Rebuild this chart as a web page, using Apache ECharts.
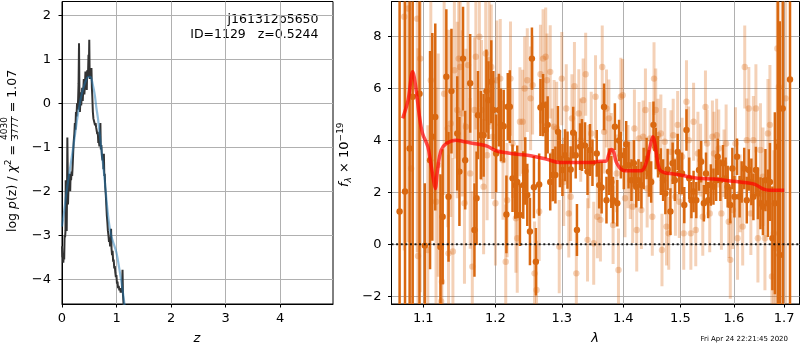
<!DOCTYPE html>
<html>
<head>
<meta charset="utf-8">
<script src="https://cdn.jsdelivr.net/npm/echarts@6/dist/echarts.min.js"></script>
<style>
    html, body { margin: 0; padding: 0; background: #fff; }
    #main { width: 800px; height: 350px; }
</style>
</head>
<body>
<div id="main"></div>
<script>
// left panel: log p(z)
var zTicks = [0, 1, 2, 3, 4];
var pzTicks = [-4, -3, -2, -1, 0, 1, 2];
var zGrid = [
    0.000, 0.008, 0.016, 0.024, 0.032, 0.040, 0.048, 0.056, 0.064, 0.068,
    0.074, 0.080, 0.086, 0.092, 0.098, 0.104, 0.110, 0.118, 0.126, 0.134,
    0.142, 0.150, 0.158, 0.166, 0.176, 0.186, 0.196, 0.206, 0.216, 0.226,
    0.236, 0.246, 0.256, 0.266, 0.276, 0.286, 0.296, 0.304, 0.312, 0.320,
    0.328, 0.336, 0.344, 0.352, 0.360, 0.370, 0.380, 0.390, 0.400, 0.410,
    0.420, 0.430, 0.438, 0.446, 0.454, 0.462, 0.470, 0.478, 0.486, 0.494,
    0.500, 0.508, 0.516, 0.524, 0.532, 0.540, 0.548, 0.556, 0.566, 0.576,
    0.586, 0.596, 0.606, 0.616, 0.626, 0.636, 0.646, 0.656, 0.666, 0.676,
    0.686, 0.696, 0.704, 0.712, 0.722, 0.732, 0.742, 0.752, 0.760, 0.768,
    0.776, 0.784, 0.792, 0.802, 0.812, 0.822, 0.832, 0.842, 0.852, 0.862,
    0.872, 0.882, 0.892, 0.900, 0.908, 0.918, 0.928, 0.938, 0.948, 0.958,
    0.968, 0.978, 0.988, 0.998, 1.008, 1.018, 1.028, 1.040, 1.052, 1.064,
    1.076, 1.088, 1.100, 1.110, 1.118, 1.126, 1.136
];
var logpz = [
    -3.25, -3.50, -3.40, -3.62, -3.45, -3.55, -3.00, -3.05, -2.90, -1.75,
    -2.70, -2.20, -2.90, -2.10, -0.78, -1.40, -2.30, -1.95, -1.60, -1.85,
    -1.70, -2.00, -1.60, -1.75, -1.55, -1.65, -1.40, -1.10, -0.85, -0.70,
    -0.45, -0.60, -0.20, -0.30, 0.00, -0.15, 0.10, 0.45, 1.36, 0.20,
    -0.20, 0.00, 0.25, -0.05, 0.10, 0.35, 0.05, 0.30, 0.55, 0.20,
    0.40, 0.72, 0.45, 0.65, 0.30, 0.75, 0.60, 0.70, 1.10, 0.90,
    1.44, 0.55, 0.65, 0.58, 0.75, 0.80, 0.35, 0.15, -0.20, -0.35,
    -0.40, -0.38, -0.50, -0.45, -0.55, -0.62, -0.70, -0.65, -0.90, -0.85,
    -0.98, -0.75, -0.45, -1.05, -0.95, -1.20, -1.30, -1.15, -1.50, -1.15,
    -1.65, -1.60, -1.90, -2.05, -2.30, -2.55, -2.70, -2.90, -3.00, -3.15,
    -3.05, -3.25, -3.10, -2.85, -3.30, -3.45, -3.35, -3.60, -3.55, -3.75,
    -3.70, -3.85, -3.95, -3.90, -4.10, -4.05, -4.20, -4.15, -4.25, -4.20,
    -4.30, -4.25, -4.30, -3.78, -4.35, -4.50, -4.75
];
var zSmooth = [0.00, 0.04, 0.08, 0.12, 0.16, 0.20, 0.24, 0.28, 0.32, 0.36, 0.40, 0.44, 0.48, 0.52,
    0.56, 0.60, 0.63, 0.66, 0.70, 0.74, 0.78, 0.82, 0.86, 0.90, 0.95, 1.00, 1.05, 1.10, 1.15];
var logpzSmooth = [-2.80, -2.45, -2.05, -1.70, -1.38, -1.05, -0.70, -0.35, -0.05, 0.20, 0.38, 0.52, 0.60, 0.60,
    0.45, 0.20, -0.10, -0.35, -0.80, -1.25, -1.70, -2.25, -2.70, -3.00, -3.20, -3.40, -3.75, -4.15, -4.60];

// right panel: spectrum
var waveTicks = [1.1, 1.2, 1.3, 1.4, 1.5, 1.6, 1.7];
var fluxTicks = [-2, 0, 2, 4, 6, 8];
var darkWave = [
    1.069, 1.076, 1.082, 1.086, 1.095, 1.102, 1.109, 1.112, 1.116, 1.123,
    1.126, 1.131, 1.134, 1.138, 1.146, 1.149, 1.154, 1.157, 1.164, 1.170,
    1.173, 1.175, 1.179, 1.183, 1.187, 1.190, 1.194, 1.197, 1.201, 1.205,
    1.208, 1.212, 1.216, 1.218, 1.221, 1.225, 1.229, 1.232, 1.236, 1.241,
    1.244, 1.247, 1.251, 1.254, 1.257, 1.260, 1.265, 1.267, 1.271, 1.275,
    1.278, 1.282, 1.286, 1.290, 1.294, 1.297, 1.301, 1.305, 1.309, 1.314,
    1.318, 1.322, 1.324, 1.329, 1.332, 1.337, 1.341, 1.345, 1.349, 1.356,
    1.360, 1.364, 1.368, 1.372, 1.376, 1.380, 1.383, 1.386, 1.390, 1.393,
    1.396, 1.401, 1.405, 1.409, 1.414, 1.418, 1.422, 1.426, 1.431, 1.435,
    1.440, 1.444, 1.448, 1.452, 1.456, 1.460, 1.465, 1.469, 1.473, 1.477,
    1.482, 1.486, 1.490, 1.495, 1.498, 1.503, 1.507, 1.511, 1.516, 1.520,
    1.524, 1.529, 1.534, 1.538, 1.543, 1.547, 1.551, 1.556, 1.561, 1.566,
    1.569, 1.574, 1.579, 1.584, 1.588, 1.593, 1.597, 1.601, 1.606, 1.611,
    1.615, 1.620, 1.625, 1.629, 1.634, 1.638, 1.643, 1.647, 1.652, 1.657,
    1.662, 1.667, 1.671, 1.676, 1.681, 1.687, 1.691, 1.697, 1.712
];
var darkFlux = [
    1.26, 2.03, 3.69, 5.68, 5.80, -0.05, 3.24, 4.14, 4.90, -0.10,
    1.06, 6.45, 1.83, 5.90, 4.27, 2.80, 7.15, 3.24, 6.20, 0.55,
    1.77, 4.97, 4.20, 4.20, 5.90, 5.55, 6.26, 5.17, 3.50, 5.17,
    4.60, 4.55, 1.15, 5.30, 5.30, 2.54, 2.28, 2.40, 1.13, 2.28,
    2.82, 1.90, 0.49, 7.15, 2.20, -0.67, 2.30, 5.27, 5.36, 4.40,
    4.60, 2.40, 2.67, 2.67, 4.33, 3.30, 2.86, 3.43, 3.24, 2.88,
    4.30, 3.43, 0.55, 3.76, 3.82, 3.80, 2.80, 3.63, 3.14, 3.50,
    2.28, 2.19, 5.29, 1.70, 2.80, 2.40, 1.70, 4.53, 1.58, 4.00,
    3.43, 2.92, 3.85, 3.05, 2.47, 3.12, 2.22, 2.47, 2.28, 2.92,
    3.30, 2.73, 2.40, 4.60, 3.69, 3.37, 2.80, 2.47, 1.96, 2.88,
    1.26, 3.12, 2.47, 3.56, 2.73, 2.73, 1.51, 4.40, 2.54, 1.70,
    2.03, 1.70, 2.86, 3.18, 1.58, 2.73, 1.70, 2.28, 2.22, 2.47,
    3.37, 2.47, 3.12, 2.54, 2.22, 1.51, 2.92, 1.83, 3.37, 1.83,
    2.40, 2.92, 1.70, 2.86, 2.40, 1.83, 2.86, 1.96, 1.58, 1.45,
    2.47, 1.58, 2.40, 0.23, 1.58, 3.76, -0.41, 5.23, 6.35
];
var darkErr = [
    12, 12, 12, 12, 10, 2.4, 4.2, 4.0, 3.6, 2.8,
    2.6, 2.6, 2.5, 2.4, 2.2, 2.1, 2.0, 1.9, 1.9, 1.8,
    1.8, 1.7, 1.7, 1.6, 1.6, 1.5, 1.6, 1.5, 1.5, 1.4,
    1.4, 1.4, 1.5, 1.3, 1.4, 1.3, 1.3, 1.4, 1.2, 1.3,
    1.3, 1.2, 1.3, 1.2, 1.2, 1.3, 1.2, 1.1, 1.2, 1.1,
    1.1, 1.1, 1.0, 1.1, 1.0, 1.1, 1.0, 1.0, 1.1, 0.9,
    1.0, 0.9, 1.0, 0.9, 1.0, 0.9, 0.9, 1.0, 0.9, 0.9,
    0.9, 1.0, 0.9, 0.9, 0.9, 1.0, 0.9, 0.9, 0.9, 0.8,
    0.9, 0.8, 0.9, 0.9, 0.8, 0.9, 0.8, 0.8, 0.9, 0.8,
    0.8, 0.9, 0.8, 0.9, 0.8, 0.8, 0.9, 0.8, 0.8, 0.8,
    0.9, 0.8, 0.8, 0.7, 0.8, 0.8, 0.7, 0.8, 0.8, 0.7,
    0.8, 0.7, 0.8, 0.8, 0.7, 0.8, 0.7, 0.8, 0.7, 0.8,
    0.7, 0.8, 0.7, 0.8, 0.8, 0.7, 0.8, 0.8, 0.7, 0.8,
    0.8, 0.8, 0.9, 0.8, 0.9, 0.9, 0.9, 1.0, 1.0, 1.1,
    1.2, 1.3, 1.5, 2.0, 3.5, 9, 9, 9, 12
];
var lightWave = [
    1.075, 1.080, 1.084, 1.092, 1.093, 1.096, 1.106, 1.110, 1.117, 1.120,
    1.124, 1.125, 1.128, 1.133, 1.134, 1.137, 1.140, 1.142, 1.146, 1.148,
    1.150, 1.153, 1.156, 1.158, 1.161, 1.164, 1.167, 1.170, 1.172, 1.177,
    1.180, 1.183, 1.186, 1.188, 1.191, 1.194, 1.196, 1.200, 1.202, 1.207,
    1.211, 1.215, 1.217, 1.222, 1.225, 1.230, 1.232, 1.236, 1.240, 1.243,
    1.247, 1.252, 1.255, 1.258, 1.261, 1.265, 1.267, 1.271, 1.275, 1.277,
    1.282, 1.285, 1.288, 1.292, 1.296, 1.300, 1.303, 1.307, 1.311, 1.314,
    1.316, 1.320, 1.323, 1.327, 1.330, 1.334, 1.338, 1.341, 1.343, 1.347,
    1.351, 1.354, 1.357, 1.362, 1.365, 1.368, 1.372, 1.376, 1.380, 1.383,
    1.389, 1.392, 1.396, 1.399, 1.403, 1.408, 1.412, 1.416, 1.419, 1.423,
    1.427, 1.431, 1.434, 1.438, 1.441, 1.446, 1.450, 1.453, 1.456, 1.460,
    1.465, 1.467, 1.472, 1.475, 1.479, 1.483, 1.487, 1.491, 1.495, 1.498,
    1.503, 1.506, 1.511, 1.515, 1.519, 1.524, 1.528, 1.532, 1.537, 1.541,
    1.546, 1.549, 1.554, 1.559, 1.562, 1.567, 1.571, 1.576, 1.581, 1.585,
    1.590, 1.593, 1.598, 1.603, 1.607, 1.612, 1.617, 1.621, 1.625, 1.629,
    1.633, 1.638, 1.643, 1.647, 1.652, 1.657, 1.661, 1.667, 1.671, 1.675,
    1.679, 1.683, 1.686, 1.689, 1.703
];
var lightFlux = [
    8.76, 9.08, 2.92, 8.69, -0.45, 7.15, -0.22, 6.32, 1.64, 3.05,
    -2.20, -1.44, 5.80, 4.46, -0.35, 4.65, -0.28, 6.70, 5.17, 7.15,
    6.83, 5.04, 1.58, 4.53, 6.90, 2.73, -0.86, 5.17, 7.22, 7.99,
    5.17, 2.22, 7.35, 3.43, 7.09, 6.83, 4.14, 1.58, 6.32, 6.38,
    3.24, -0.67, 1.70, 6.38, 3.88, 1.00, 0.23, 4.72, 4.72, 6.00,
    6.32, 5.62, 6.13, -1.12, -1.76, 1.26, 6.55, 7.15, 7.22, 6.32,
    6.64, 3.43, 4.53, 4.46, -0.09, 6.38, 2.40, 5.23, 1.19, 1.83,
    4.85, 6.09, -1.12, 5.04, 4.01, 5.55, 6.55, 0.17, 2.99, 4.27,
    0.04, 5.68, 1.06, 0.94, 6.83, 4.33, 5.23, 4.85, 3.56, 0.74,
    2.73, -0.99, 5.68, 5.74, 1.77, 2.99, 2.47, 1.45, 4.46, 0.55,
    4.08, 1.32, 4.14, 5.17, 2.15, 4.08, 1.06, 6.38, 5.17, 4.20,
    4.27, -0.22, 3.95, 0.68, 0.42, 3.56, 4.20, 1.83, 4.60, 1.64,
    3.37, 0.42, 5.49, 4.01, 0.42, 4.72, 0.55, 3.50, 3.24, 1.06,
    5.29, 3.88, 1.19, 4.14, 3.50, 4.20, 3.69, 1.19, 3.12, 3.88,
    0.87, -0.60, 1.32, 3.88, 0.23, 1.96, 0.68, 6.83, 4.01, 5.23,
    1.19, 4.01, 5.23, 0.23, 3.63, 2.60, 0.23, 4.27, 4.60, -1.24,
    0.42, -0.15, 7.54, 6.06, 5.62
];
var lightErr = [
    9, 9, 9, 9, 8, 9, 4.8, 4.8, 4.4, 4.3,
    4.2, 4.1, 3.9, 3.8, 3.8, 3.6, 3.6, 3.4, 3.4, 3.3,
    3.2, 3.2, 3.1, 3.0, 3.0, 2.9, 2.9, 2.8, 2.8, 2.7,
    2.7, 2.6, 2.6, 2.5, 2.5, 2.4, 2.4, 2.4, 2.3, 2.3,
    2.3, 2.2, 2.2, 2.2, 2.1, 2.1, 2.1, 2.1, 2.0, 2.0,
    2.0, 2.0, 1.9, 2.0, 1.9, 1.9, 1.9, 1.9, 1.9, 1.8,
    1.8, 1.8, 1.8, 1.8, 1.8, 1.8, 1.7, 1.7, 1.7, 1.7,
    1.7, 1.7, 1.7, 1.7, 1.6, 1.6, 1.6, 1.6, 1.6, 1.6,
    1.6, 1.6, 1.6, 1.6, 1.6, 1.6, 1.5, 1.5, 1.5, 1.5,
    1.5, 1.6, 1.5, 1.4, 1.5, 1.6, 1.5, 1.4, 1.5, 1.6,
    1.4, 1.5, 1.4, 1.6, 1.5, 1.4, 1.5, 1.4, 1.6, 1.4,
    1.5, 1.4, 1.3, 1.5, 1.4, 1.6, 1.4, 1.5, 1.3, 1.4,
    1.5, 1.4, 1.6, 1.3, 1.4, 1.5, 1.4, 1.6, 1.4, 1.5,
    1.4, 1.3, 1.5, 1.4, 1.6, 1.4, 1.5, 1.4, 1.3, 1.5,
    1.4, 1.5, 1.5, 1.4, 1.6, 1.5, 1.5, 1.6, 1.6, 1.6,
    1.6, 1.7, 1.7, 1.7, 1.8, 1.9, 2.0, 2.1, 2.3, 2.8,
    3.2, 4.2, 6, 9, 9
];
var modelWave = [
    1.073, 1.080, 1.086, 1.090, 1.095, 1.099, 1.106, 1.110, 1.114, 1.116,
    1.119, 1.124, 1.131, 1.144, 1.156, 1.174, 1.188, 1.202, 1.232, 1.252,
    1.277, 1.297, 1.324, 1.352, 1.357, 1.371, 1.376, 1.380, 1.384, 1.388,
    1.395, 1.403, 1.430, 1.438, 1.446, 1.451, 1.454, 1.462, 1.471, 1.488,
    1.507, 1.531, 1.562, 1.593, 1.625, 1.641, 1.657, 1.670, 1.700
];
var modelFlux = [
    4.85, 5.55, 6.64, 6.06, 4.90, 4.27, 3.76, 3.12, 2.41, 2.15,
    2.86, 3.63, 3.88, 4.01, 3.95, 3.86, 3.78, 3.59, 3.47, 3.41,
    3.27, 3.15, 3.15, 3.15, 3.19, 3.20, 3.47, 3.65, 3.56, 3.18,
    2.92, 2.83, 2.83, 3.05, 3.76, 4.14, 3.95, 2.92, 2.76, 2.71,
    2.64, 2.54, 2.51, 2.44, 2.37, 2.31, 2.13, 2.08, 2.08
];

var FONT = '"DejaVu Sans", sans-serif';
var ORANGE = 'rgb(217,104,16)';
var ORANGE_LIGHT = 'rgba(217,104,16,0.3)';
var WMIN = 1.0586, WMAX = 1.7317;

function minusFmt(v) {
    return String(v).replace('-', '\u2212');
}

function makeAxis(gridIndex, type, min, max, ticks, margin, fmt) {
    return {
        gridIndex: gridIndex,
        type: type,
        min: min,
        max: max,
        axisLine: {show: true, onZero: false, lineStyle: {color: '#000', width: 1}},
        axisTick: {show: true, inside: false, length: 3.5, customValues: ticks,
            lineStyle: {color: '#000', width: 1}},
        axisLabel: {color: '#000', fontSize: 13, fontFamily: FONT, margin: margin,
            customValues: ticks, formatter: fmt},
        splitLine: {show: true, lineStyle: {color: '#b0b0b0', width: 1}}
    };
}

function zip(a, b, c) {
    var out = [];
    for (var i = 0; i < a.length; i++) {
        out.push(c ? [a[i], b[i], c[i]] : [a[i], b[i]]);
    }
    return out;
}

// error bar + dot
function errorBars(color, lw, r) {
    return function (params, api) {
        var x = api.value(0), y = api.value(1), e = api.value(2);
        var lo = api.coord([x, y - e]), hi = api.coord([x, y + e]), c = api.coord([x, y]);
        return {
            type: 'group',
            children: [
                {type: 'line', shape: {x1: lo[0], y1: lo[1], x2: hi[0], y2: hi[1]},
                    style: {stroke: color, lineWidth: lw}},
                {type: 'circle', shape: {cx: c[0], cy: c[1], r: r}, style: {fill: color}}
            ]
        };
    };
}

// rotated mathtext-like label, reads bottom to top; (x, y) = baseline start
function rotatedLabel(x, y, pieces) {
    var ctx = document.createElement('canvas').getContext('2d');
    var children = [], cx = 0;
    pieces.forEach(function (p) {
        var font = (p.italic ? 'italic ' : '') + p.size + 'px ' + FONT;
        ctx.font = font;
        if (p.frac) {
            var w = Math.max(ctx.measureText(p.frac[0]).width, ctx.measureText(p.frac[1]).width) + 2;
            var bar = -5.5;
            children.push({type: 'line', shape: {x1: cx, y1: bar, x2: cx + w, y2: bar},
                style: {stroke: '#000', lineWidth: 0.8}});
            children.push({type: 'text', x: cx + w / 2, y: bar - 1.2 - 0.35 * p.size - 2.2,
                style: {text: p.frac[0], font: font, fill: '#000', align: 'center', textAlign: 'center',
                    verticalAlign: 'middle', textVerticalAlign: 'middle'}});
            children.push({type: 'text', x: cx + w / 2, y: bar + 1.2 + 0.73 * p.size - 0.35 * p.size,
                style: {text: p.frac[1], font: font, fill: '#000', align: 'center', textAlign: 'center',
                    verticalAlign: 'middle', textVerticalAlign: 'middle'}});
            cx += w;
            return;
        }
        children.push({type: 'text', x: cx, y: -0.35 * p.size + (p.dy || 0),
            style: {text: p.text, font: font, fill: '#000', align: 'left', textAlign: 'left',
                verticalAlign: 'middle', textVerticalAlign: 'middle'}});
        cx += ctx.measureText(p.text).width;
    });
    return {type: 'group', x: x, y: y, rotation: Math.PI / 2, children: children};
}

function plainText(x, y, text, size, align, italic) {
    var font = (italic ? 'italic ' : '') + size + 'px ' + FONT;
    return {type: 'text', x: x, y: y,
        style: {text: text, font: font, fill: '#000', align: align, textAlign: align,
            verticalAlign: 'middle', textVerticalAlign: 'middle'}};
}

var chart = echarts.init(document.getElementById('main'));

var option = {
    animation: false,
    backgroundColor: '#fff',
    textStyle: {fontFamily: FONT},
    grid: [
        {left: 62, top: 1.5, width: 271, height: 302.5, show: true, borderColor: '#000', borderWidth: 1},
        {left: 391.5, top: 1.5, width: 408, height: 302.5, show: true, borderColor: '#000', borderWidth: 1}
    ],
    xAxis: [
        makeAxis(0, 'value', 0, 4.97, zTicks, 8, minusFmt),
        makeAxis(1, 'log', WMIN, WMAX, waveTicks, 8, function (v) { return v.toFixed(1); })
    ],
    yAxis: [
        makeAxis(0, 'value', -4.56, 2.31, pzTicks, 11, minusFmt),
        makeAxis(1, 'value', -2.3, 9.35, fluxTicks, 10, minusFmt)
    ],
    series: [
        {
            type: 'line', xAxisIndex: 0, yAxisIndex: 0, data: zip(zGrid, logpz),
            symbol: 'none', lineStyle: {color: '#333', width: 2}, silent: true
        },
        {
            type: 'line', xAxisIndex: 0, yAxisIndex: 0, data: zip(zSmooth, logpzSmooth),
            symbol: 'none', smooth: 0.3, lineStyle: {color: 'rgba(31,119,180,0.5)', width: 2.2}, silent: true
        },
        {
            type: 'custom', xAxisIndex: 1, yAxisIndex: 1, clip: true,
            data: zip(lightWave, lightFlux, lightErr),
            renderItem: errorBars(ORANGE_LIGHT, 3, 3.2), silent: true
        },
        {
            type: 'custom', xAxisIndex: 1, yAxisIndex: 1, clip: true,
            data: zip(darkWave, darkFlux, darkErr),
            renderItem: errorBars(ORANGE, 2.5, 3.2), silent: true
        },
        {
            type: 'line', xAxisIndex: 1, yAxisIndex: 1, data: [[WMIN, 0], [WMAX, 0]],
            symbol: 'none', lineStyle: {color: '#000', width: 2, type: [2, 2.6], opacity: 0.85}, silent: true
        },
        {
            type: 'line', xAxisIndex: 1, yAxisIndex: 1, data: zip(modelWave, modelFlux),
            symbol: 'none', smooth: 0.35, lineStyle: {color: 'rgba(255,0,0,0.7)', width: 3.5}, silent: true
        }
    ],
    graphic: [
        plainText(318.5, 20, 'j161312p5650', 12.5, 'right'),
        plainText(318.5, 34.5, 'ID=1129   z=0.5244', 12.5, 'right'),
        plainText(197, 339, 'z', 13, 'center', true),
        plainText(595, 339, '\u03bb', 13, 'center', true),
        plainText(788, 339, 'Fri Apr 24 22:21:45 2020', 7, 'right'),
        rotatedLabel(17, 232, [
            {text: 'log ', size: 12.5},
            {text: 'p', size: 12.5, italic: true},
            {text: '(z) / ', size: 12.5},
            {text: '\u03c7', size: 12.5, italic: true},
            {text: '2', size: 9, dy: -5},
            {text: ' = ', size: 12.5},
            {frac: ['4030', '3777'], size: 9},
            {text: ' = 1.07', size: 12.5}
        ]),
        rotatedLabel(349.5, 187, [
            {text: 'f', size: 13, italic: true},
            {text: '\u03bb', size: 9, italic: true, dy: 2.5},
            {text: ' \u00d7 10', size: 13},
            {text: '\u221219', size: 9, dy: -5.5}
        ])
    ]
};

chart.setOption(option);
</script>
</body>
</html>
